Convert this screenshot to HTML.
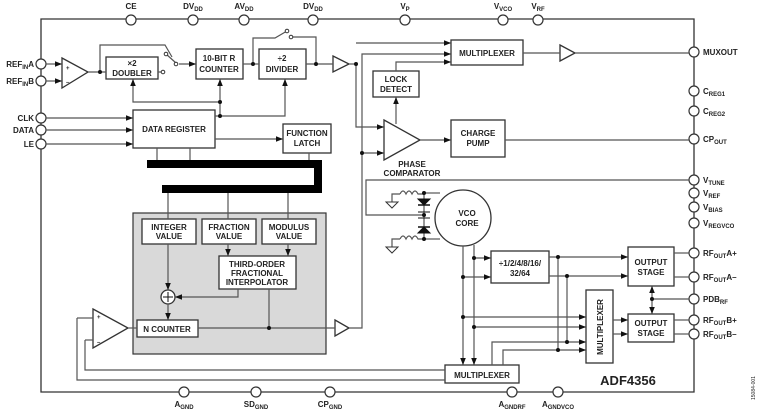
<!DOCTYPE html>
<html><head><meta charset="utf-8"><style>
html,body{margin:0;padding:0;background:#fff;}
svg{display:block;font-family:"Liberation Sans",Arial,sans-serif;font-weight:bold;}
text{fill:#222;}
</style></head><body>
<svg width="760" height="413" viewBox="0 0 760 413" xmlns="http://www.w3.org/2000/svg">
<defs>
<marker id="a" viewBox="0 0 10 10" refX="10" refY="5" markerWidth="7" markerHeight="7" orient="auto" markerUnits="userSpaceOnUse"><path d="M0,1 L10,5 L0,9 z" fill="#111"/></marker>
</defs>
<g fill="none" stroke="#333" stroke-width="1.3">
<path d="M41,19 H694 V392 H41 Z"/>
</g>
<g fill="#fff" stroke="#333" stroke-width="1.2">
<circle cx="131" cy="20" r="5"/><circle cx="193" cy="20" r="5"/><circle cx="244" cy="20" r="5"/><circle cx="313" cy="20" r="5"/>
<circle cx="405" cy="20" r="5"/><circle cx="503" cy="20" r="5"/><circle cx="538" cy="20" r="5"/>
<circle cx="41" cy="64" r="5"/><circle cx="41" cy="81" r="5"/><circle cx="41" cy="118" r="5"/><circle cx="41" cy="130" r="5"/><circle cx="41" cy="144" r="5"/>
<circle cx="694" cy="52" r="5"/><circle cx="694" cy="91" r="5"/><circle cx="694" cy="111" r="5"/><circle cx="694" cy="139" r="5"/>
<circle cx="694" cy="180" r="5"/><circle cx="694" cy="193" r="5"/><circle cx="694" cy="207" r="5"/><circle cx="694" cy="223" r="5"/>
<circle cx="694" cy="253" r="5"/><circle cx="694" cy="277" r="5"/><circle cx="694" cy="299" r="5"/><circle cx="694" cy="320" r="5"/><circle cx="694" cy="334" r="5"/>
<circle cx="184" cy="392" r="5"/><circle cx="256" cy="392" r="5"/><circle cx="330" cy="392" r="5"/><circle cx="512" cy="392" r="5"/><circle cx="558" cy="392" r="5"/>
</g>
<rect x="133" y="213" width="193" height="141" fill="#d9d9d9" stroke="#333" stroke-width="1.2"/>
<g fill="#fff" stroke="#333" stroke-width="1.3">
<rect x="106" y="57" width="52" height="22"/>
<rect x="196" y="49" width="47" height="30"/>
<rect x="259" y="49" width="47" height="30"/>
<rect x="133" y="110" width="82" height="38"/>
<rect x="283" y="124" width="48" height="29"/>
<rect x="142" y="219" width="54" height="25"/>
<rect x="202" y="219" width="54" height="25"/>
<rect x="262" y="219" width="54" height="25"/>
<rect x="219" y="256" width="77" height="33"/>
<rect x="137" y="320" width="61" height="17"/>
<rect x="451" y="40" width="72" height="25"/>
<rect x="373" y="71" width="46" height="26"/>
<rect x="451" y="120" width="54" height="37"/>
<rect x="491" y="251" width="58" height="32"/>
<rect x="628" y="247" width="46" height="39"/>
<rect x="628" y="314" width="46" height="28"/>
<rect x="586" y="290" width="27" height="73"/>
<rect x="445" y="365" width="74" height="18"/>
<circle cx="463" cy="218" r="28"/>
<circle cx="168" cy="297" r="7"/>
<path d="M62,58 L88,72 L62,88 Z"/>
<path d="M333,56 L349,64 L333,72 Z"/>
<path d="M560,45 L575,53 L560,61 Z"/>
<path d="M384,120 L420,140 L384,160 Z"/>
<path d="M93,309 L128,328 L93,348 Z"/>
<path d="M335,320 L349,328 L335,336 Z"/>
</g>
<path d="M147,164 H318 V189 H162" fill="none" stroke="#000" stroke-width="8"/>
<g fill="none" stroke="#555" stroke-width="1.2">
<path d="M46,64 H62" marker-end="url(#a)"/><path d="M46,81 H62" marker-end="url(#a)"/>
<path d="M46,118 H133" marker-end="url(#a)"/><path d="M46,130 H133" marker-end="url(#a)"/><path d="M46,144 H133" marker-end="url(#a)"/>
<path d="M88,72 H106"/><path d="M100,72 V45 H165 L172,57"/><path d="M158,72 H163"/>
<path d="M166,54 L176,63"/><path d="M179,64 H196" marker-end="url(#a)"/>
<path d="M243,64 H259"/><path d="M253,64 V38 H275 L287,31"/><path d="M291,37 H316 V64"/><path d="M306,64 H333"/>
<path d="M349,64 H356"/>
<path d="M220,102 H133 V79" marker-end="url(#a)"/>
<path d="M220,116 V79" marker-end="url(#a)"/><path d="M215,116 H285 V79" marker-end="url(#a)"/>
<path d="M215,139 H283" marker-end="url(#a)"/>
<path d="M157,148 V160"/><path d="M190,148 V160"/><path d="M309,153 V160"/>
<path d="M168,193 V219"/><path d="M228,193 V219"/><path d="M288,193 V219"/>
<path d="M228,244 V256" marker-end="url(#a)"/><path d="M288,244 V256" marker-end="url(#a)"/>
<path d="M168,244 V290" marker-end="url(#a)"/><path d="M238,289 V297 H175" marker-end="url(#a)"/>
<path d="M168,304 V320" marker-end="url(#a)"/>
<path d="M128,328 H137"/><path d="M198,328 H335"/><path d="M269,289 V328"/>
<path d="M349,328 H362 V54 H451" marker-end="url(#a)"/>
<path d="M356,64 V127 H384" marker-end="url(#a)"/>
<path d="M356,43 H451" marker-end="url(#a)"/>
<path d="M362,153 H384" marker-end="url(#a)"/>
<path d="M396,124 V97" marker-end="url(#a)"/>
<path d="M396,71 V62 H451" marker-end="url(#a)"/>
<path d="M523,53 H560"/><path d="M575,53 H689"/>
<path d="M420,140 H451" marker-end="url(#a)"/><path d="M505,140 H689"/>
<path d="M689,180 H366 V215 H424"/>
<path d="M424,193 H440"/><path d="M424,239 H440"/>
<path d="M400,194 q3,-6 6,0 q3,-6 6,0 q3,-6 6,0 H424"/><path d="M400,194 H392 V202"/>
<path d="M400,239 q3,-6 6,0 q3,-6 6,0 q3,-6 6,0 H424"/><path d="M400,239 H392 V247"/>
<path d="M424,193 V239"/>
<path d="M463,246 V365" marker-end="url(#a)"/><path d="M474,245 V365" marker-end="url(#a)"/>
<path d="M474,258 H491" marker-end="url(#a)"/><path d="M463,277 H491" marker-end="url(#a)"/>
<path d="M549,257 H628" marker-end="url(#a)"/><path d="M549,276 H628" marker-end="url(#a)"/>
<path d="M558,257 V350"/><path d="M567,276 V342"/>
<path d="M463,317 H586" marker-end="url(#a)"/><path d="M474,327 H586" marker-end="url(#a)"/>
<path d="M492,365 V342 H586" marker-end="url(#a)"/><path d="M503,365 V350 H586" marker-end="url(#a)"/>
<path d="M613,320 H628" marker-end="url(#a)"/><path d="M613,334 H628" marker-end="url(#a)"/>
<path d="M674,253 H689"/><path d="M674,277 H689"/><path d="M674,320 H689"/><path d="M674,334 H689"/>
<path d="M652,299 H689"/><path d="M652,299 V286" marker-end="url(#a)"/><path d="M652,299 V314" marker-end="url(#a)"/>
<path d="M77,318 H93"/><path d="M77,318 V380 H445"/>
<path d="M85,340 H93"/><path d="M85,340 V370 H445"/>
</g>
<g fill="none" stroke="#333" stroke-width="1"><path d="M386,202 H398 L392,208 Z"/><path d="M386,247 H398 L392,253 Z"/></g>
<g fill="#111" stroke="#111">
<path d="M418,199 H430 L424,205 Z"/><path d="M418,205 H430" stroke-width="1.5"/>
<path d="M418,212 H430"/><path d="M418,218 H430"/>
<path d="M418,233 H430 L424,227 Z"/><path d="M418,227 H430" stroke-width="1.5"/>
</g>
<g fill="#111">
<circle cx="100" cy="72" r="2"/><circle cx="253" cy="64" r="2"/><circle cx="316" cy="64" r="2"/><circle cx="356" cy="64" r="2"/>
<circle cx="220" cy="102" r="2"/><circle cx="220" cy="116" r="2"/><circle cx="269" cy="328" r="2"/><circle cx="362" cy="153" r="2"/>
<circle cx="424" cy="193" r="2"/><circle cx="424" cy="239" r="2"/><circle cx="424" cy="215" r="2"/>
<circle cx="474" cy="258" r="2"/><circle cx="463" cy="277" r="2"/><circle cx="463" cy="317" r="2"/><circle cx="474" cy="327" r="2"/>
<circle cx="558" cy="257" r="2"/><circle cx="567" cy="276" r="2"/><circle cx="567" cy="342" r="2"/><circle cx="558" cy="350" r="2"/>
<circle cx="652" cy="299" r="2"/>
<circle cx="166" cy="54" r="1.8" fill="#fff" stroke="#333"/><circle cx="176" cy="64" r="1.8" fill="#fff" stroke="#333"/><circle cx="163" cy="72" r="1.8" fill="#fff" stroke="#333"/>
<circle cx="287" cy="31" r="1.8" fill="#fff" stroke="#333"/><circle cx="291" cy="37" r="1.8" fill="#fff" stroke="#333"/>
</g>
<path d="M163,297 H173 M168,292 V302" stroke="#111" stroke-width="1"/>
<g font-size="8" text-anchor="middle">
<text x="131" y="9">CE</text>
<text x="193" y="9">DV<tspan font-size="6" dy="2">DD</tspan></text>
<text x="244" y="9">AV<tspan font-size="6" dy="2">DD</tspan></text>
<text x="313" y="9">DV<tspan font-size="6" dy="2">DD</tspan></text>
<text x="405" y="9">V<tspan font-size="6" dy="2">P</tspan></text>
<text x="503" y="9">V<tspan font-size="6" dy="2">VCO</tspan></text>
<text x="538" y="9">V<tspan font-size="6" dy="2">RF</tspan></text>
<text x="184" y="407">A<tspan font-size="6" dy="2">GND</tspan></text>
<text x="256" y="407">SD<tspan font-size="6" dy="2">GND</tspan></text>
<text x="330" y="407">CP<tspan font-size="6" dy="2">GND</tspan></text>
<text x="512" y="407">A<tspan font-size="6" dy="2">GNDRF</tspan></text>
<text x="558" y="407">A<tspan font-size="6" dy="2">GNDVCO</tspan></text>
<text x="132" y="66">×2</text><text x="132" y="76">DOUBLER</text>
<text x="219" y="61">10-BIT R</text><text x="219" y="72">COUNTER</text>
<text x="282" y="61">÷2</text><text x="282" y="72">DIVIDER</text>
<text x="174" y="132">DATA REGISTER</text>
<text x="307" y="136">FUNCTION</text><text x="307" y="146">LATCH</text>
<text x="169" y="230">INTEGER</text><text x="169" y="239">VALUE</text>
<text x="229" y="230">FRACTION</text><text x="229" y="239">VALUE</text>
<text x="289" y="230">MODULUS</text><text x="289" y="239">VALUE</text>
<text x="257" y="267">THIRD-ORDER</text><text x="257" y="276">FRACTIONAL</text><text x="257" y="285">INTERPOLATOR</text>
<text x="167" y="332">N COUNTER</text>
<text x="487" y="56">MULTIPLEXER</text>
<text x="396" y="82">LOCK</text><text x="396" y="92">DETECT</text>
<text x="478" y="136">CHARGE</text><text x="478" y="146">PUMP</text>
<text x="412" y="167">PHASE</text><text x="412" y="176">COMPARATOR</text>
<text x="467" y="216">VCO</text><text x="467" y="226">CORE</text>
<text x="520" y="266">÷1/2/4/8/16/</text><text x="520" y="276">32/64</text>
<text x="651" y="265">OUTPUT</text><text x="651" y="275">STAGE</text>
<text x="651" y="326">OUTPUT</text><text x="651" y="336">STAGE</text>
<text x="482" y="378">MULTIPLEXER</text>
<text transform="translate(603,327) rotate(-90)">MULTIPLEXER</text>
<text x="628" y="385" font-size="13">ADF4356</text>
</g>
<g font-size="8" text-anchor="end">
<text x="34" y="67">REF<tspan font-size="6" dy="2">IN</tspan><tspan dy="-2">A</tspan></text>
<text x="34" y="84">REF<tspan font-size="6" dy="2">IN</tspan><tspan dy="-2">B</tspan></text>
<text x="34" y="121">CLK</text><text x="34" y="133">DATA</text><text x="34" y="147">LE</text>
</g>
<g font-size="8">
<text x="703" y="55">MUXOUT</text>
<text x="703" y="94">C<tspan font-size="6" dy="2">REG1</tspan></text>
<text x="703" y="114">C<tspan font-size="6" dy="2">REG2</tspan></text>
<text x="703" y="142">CP<tspan font-size="6" dy="2">OUT</tspan></text>
<text x="703" y="183">V<tspan font-size="6" dy="2">TUNE</tspan></text>
<text x="703" y="196">V<tspan font-size="6" dy="2">REF</tspan></text>
<text x="703" y="210">V<tspan font-size="6" dy="2">BIAS</tspan></text>
<text x="703" y="226">V<tspan font-size="6" dy="2">REGVCO</tspan></text>
<text x="703" y="256">RF<tspan font-size="6" dy="2">OUT</tspan><tspan dy="-2">A+</tspan></text>
<text x="703" y="280">RF<tspan font-size="6" dy="2">OUT</tspan><tspan dy="-2">A–</tspan></text>
<text x="703" y="302">PDB<tspan font-size="6" dy="2">RF</tspan></text>
<text x="703" y="323">RF<tspan font-size="6" dy="2">OUT</tspan><tspan dy="-2">B+</tspan></text>
<text x="703" y="337">RF<tspan font-size="6" dy="2">OUT</tspan><tspan dy="-2">B–</tspan></text>
</g>
<g font-size="6"><text x="97" y="319">+</text><text x="97" y="344">–</text><text x="66" y="70">+</text><text x="66" y="84">–</text></g>
<text transform="translate(755,400) rotate(-90)" font-size="5" font-weight="normal">15084-001</text>
</svg>
</body></html>
